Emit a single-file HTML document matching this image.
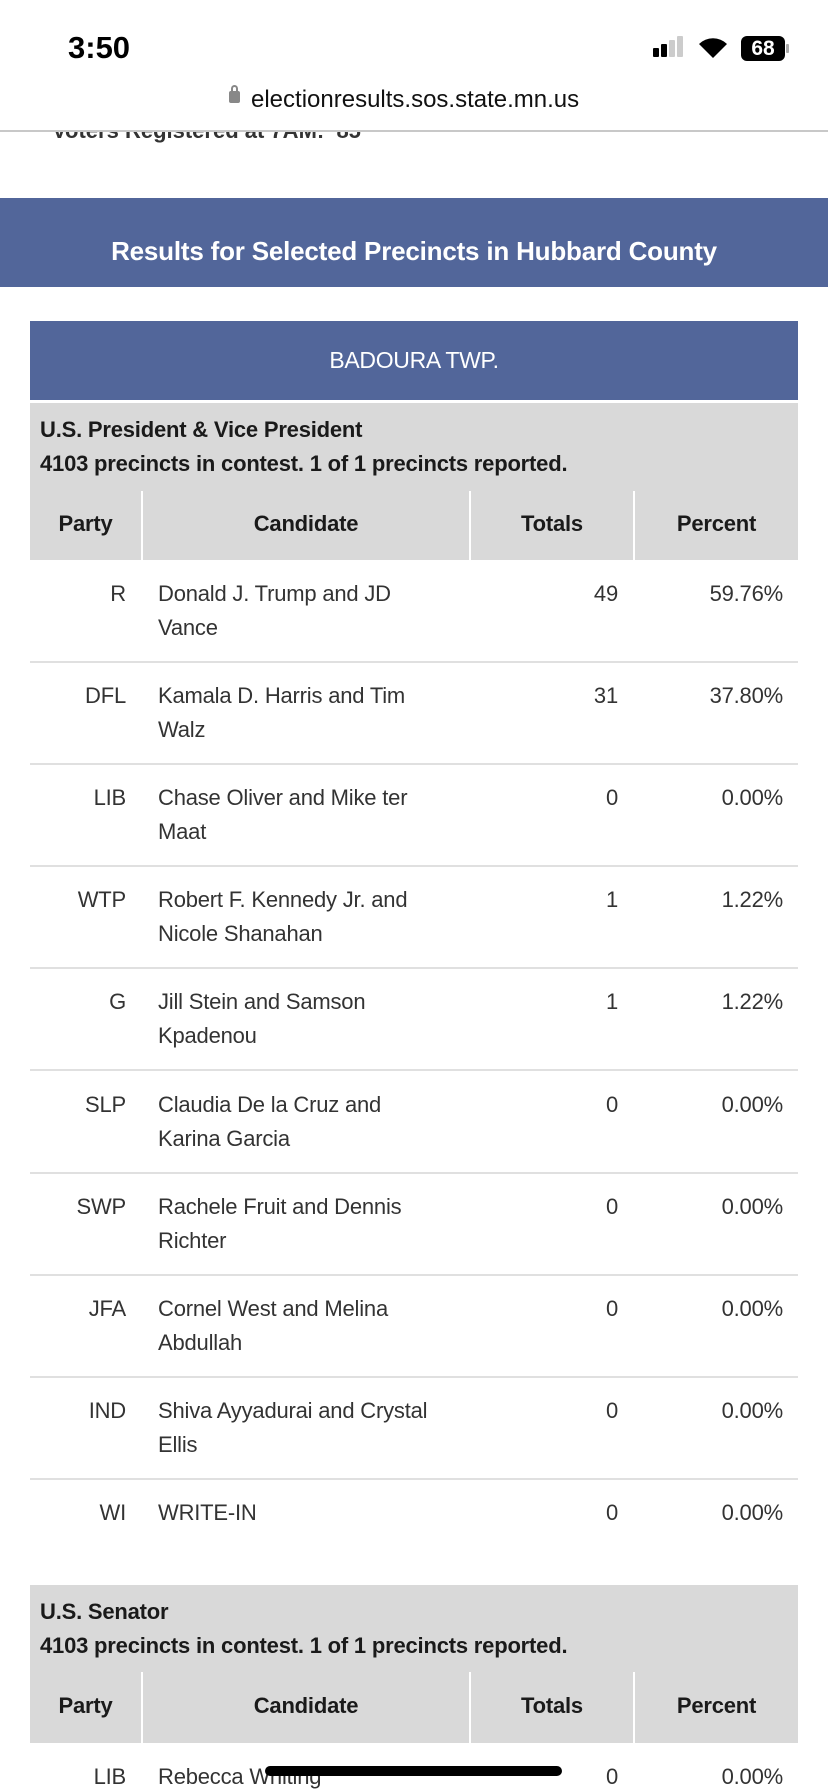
<!DOCTYPE html>
<html><head><meta charset="utf-8"><style>
*{margin:0;padding:0;box-sizing:border-box}
body{width:828px;height:1792px;overflow:hidden;background:#fff;font-family:"Liberation Sans",sans-serif;color:#333;position:relative}
.a{position:absolute;white-space:nowrap}
.banner{position:absolute;left:0;top:198px;width:828px;height:89px;background:#52669a}
.tbl{position:absolute;left:30px;width:768px}
.blue{background:#52669a}
.gray{background:#d9d9d9}
.line{position:absolute;left:30px;width:768px;height:2px;background:#e0e0e0}
.vd{position:absolute;width:2px;background:#fff}
.t{font-size:22px;letter-spacing:-0.2px}
.b{font-weight:bold;color:#1a1a1a}
.r{text-align:right}
</style></head><body>
<div class="a" style="left:68px;top:30px;font-size:31px;font-weight:bold;color:#000">3:50</div>
<div class="a" style="left:653px;top:48px;width:6px;height:9px;background:#000;border-radius:1px"></div>
<div class="a" style="left:661px;top:44px;width:6px;height:13px;background:#000;border-radius:1px"></div>
<div class="a" style="left:669px;top:40px;width:6px;height:17px;background:#ccc;border-radius:1px"></div>
<div class="a" style="left:677px;top:36px;width:6px;height:21px;background:#ccc;border-radius:1px"></div>
<svg class="a" style="left:697px;top:35px" width="32" height="24" viewBox="0 0 32 24"><path d="M16 23 L2 9 A20 20 0 0 1 30 9 Z" fill="#000"/></svg>
<div class="a" style="left:741px;top:36px;width:44px;height:25px;background:#000;border-radius:6px;color:#fff;font-size:21px;font-weight:bold;text-align:center;line-height:25px">68</div>
<div class="a" style="left:786px;top:44px;width:3px;height:9px;background:#aaa;border-radius:1px"></div>
<div class="a" style="left:229px;top:91px;width:11px;height:12px;background:#888;border-radius:2px"></div>
<div class="a" style="left:231px;top:85px;width:7px;height:9px;border:2px solid #888;border-radius:4px 4px 0 0"></div>
<div class="a" style="left:251px;top:86px;font-size:24px;color:#111">electionresults.sos.state.mn.us</div>
<div class="a" style="left:0;top:130px;width:828px;height:2px;background:#c8c8c8"></div>
<div class="a" style="left:52px;top:132px;height:12px;overflow:hidden;width:400px"><div style="position:relative;top:-14px;font-size:22px;font-weight:bold;color:#333">Voters Registered at 7AM: &nbsp;85</div></div>
<div class="banner"></div>
<div class="a" style="left:0;top:236px;width:828px;text-align:center;font-size:26px;font-weight:bold;color:#fff;letter-spacing:-0.2px">Results for Selected Precincts in Hubbard County</div>

<div class="tbl blue" style="top:321px;height:79px"></div>
<div class="a" style="left:30px;width:768px;top:347px;text-align:center;font-size:23px;color:#fff;letter-spacing:-0.3px">BADOURA TWP.</div>

<div class="tbl gray" style="top:403px;height:157px"></div>
<div class="a t b" style="left:40px;top:417px">U.S. President &amp; Vice President</div>
<div class="a t b" style="left:40px;top:451px">4103 precincts in contest. 1 of 1 precincts reported.</div>
<div class="vd" style="left:141px;top:491px;height:69px"></div>
<div class="vd" style="left:469px;top:491px;height:69px"></div>
<div class="vd" style="left:633px;top:491px;height:69px"></div>
<div class="a t b" style="left:30px;width:111px;top:511px;text-align:center">Party</div>
<div class="a t b" style="left:143px;width:326px;top:511px;text-align:center">Candidate</div>
<div class="a t b" style="left:471px;width:162px;top:511px;text-align:center">Totals</div>
<div class="a t b" style="left:635px;width:163px;top:511px;text-align:center">Percent</div>

<div id="rows"></div>
<script>
var d=[["R","Donald J. Trump and JD","Vance","49","59.76%"],["DFL","Kamala D. Harris and Tim","Walz","31","37.80%"],["LIB","Chase Oliver and Mike ter","Maat","0","0.00%"],["WTP","Robert F. Kennedy Jr. and","Nicole Shanahan","1","1.22%"],["G","Jill Stein and Samson","Kpadenou","1","1.22%"],["SLP","Claudia De la Cruz and","Karina Garcia","0","0.00%"],["SWP","Rachele Fruit and Dennis","Richter","0","0.00%"],["JFA","Cornel West and Melina","Abdullah","0","0.00%"],["IND","Shiva Ayyadurai and Crystal","Ellis","0","0.00%"],["WI","WRITE-IN","","0","0.00%"]];
var h="";
d.forEach(function(r,i){var y=560+i*102.1;var ty=y+21;
h+='<div class="a t r" style="left:30px;width:96px;top:'+ty+'px">'+r[0]+'</div>';
h+='<div class="a t" style="left:158px;top:'+ty+'px">'+r[1]+'</div>';
if(r[2])h+='<div class="a t" style="left:158px;top:'+(ty+34)+'px">'+r[2]+'</div>';
h+='<div class="a t r" style="left:500px;width:118px;top:'+ty+'px">'+r[3]+'</div>';
h+='<div class="a t r" style="left:640px;width:143px;top:'+ty+'px">'+r[4]+'</div>';
if(i<9)h+='<div class="line" style="top:'+(y+101)+'px"></div>';});
document.getElementById("rows").innerHTML=h;
</script>

<div class="tbl gray" style="top:1585px;height:158px"></div>
<div class="a t b" style="left:40px;top:1599px">U.S. Senator</div>
<div class="a t b" style="left:40px;top:1633px">4103 precincts in contest. 1 of 1 precincts reported.</div>
<div class="vd" style="left:141px;top:1672px;height:71px"></div>
<div class="vd" style="left:469px;top:1672px;height:71px"></div>
<div class="vd" style="left:633px;top:1672px;height:71px"></div>
<div class="a t b" style="left:30px;width:111px;top:1693px;text-align:center">Party</div>
<div class="a t b" style="left:143px;width:326px;top:1693px;text-align:center">Candidate</div>
<div class="a t b" style="left:471px;width:162px;top:1693px;text-align:center">Totals</div>
<div class="a t b" style="left:635px;width:163px;top:1693px;text-align:center">Percent</div>
<div class="a t r" style="left:30px;width:96px;top:1764px">LIB</div>
<div class="a t" style="left:158px;top:1764px">Rebecca Whiting</div>
<div class="a t r" style="left:500px;width:118px;top:1764px">0</div>
<div class="a t r" style="left:640px;width:143px;top:1764px">0.00%</div>
<div class="a" style="left:265px;top:1766px;width:297px;height:10px;background:#000;border-radius:5px"></div>
</body></html>
